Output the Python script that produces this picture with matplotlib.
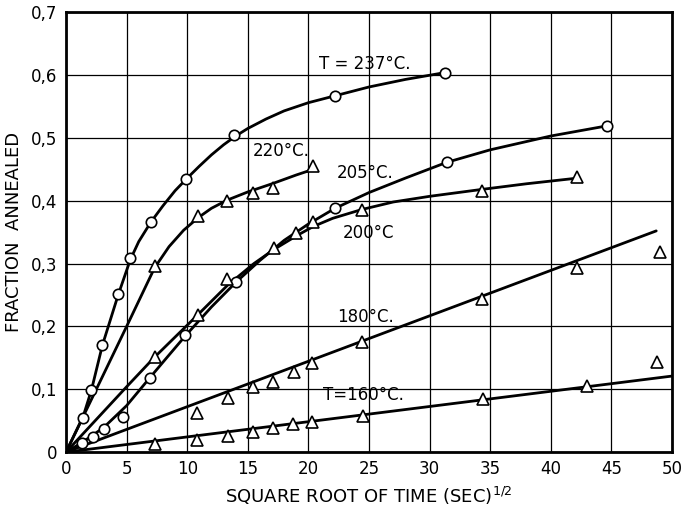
import matplotlib
matplotlib.use('Agg')
import matplotlib.pyplot as plt

# measured points (x = sqrt(time), y = fraction annealed)
x237 = [1.4, 2.1, 3.0, 4.3, 5.3, 7.0, 9.9, 13.9, 22.2, 31.3]
y237 = [0.055, 0.099, 0.171, 0.251, 0.309, 0.366, 0.434, 0.504, 0.566, 0.604]

x220 = [7.3, 10.9, 13.3, 15.4, 17.1, 20.4]
y220 = [0.296, 0.375, 0.399, 0.412, 0.421, 0.455]

x205 = [1.3, 2.2, 3.1, 4.7, 6.9, 9.8, 14.0, 22.2, 31.4, 44.6]
y205 = [0.014, 0.024, 0.037, 0.056, 0.118, 0.186, 0.271, 0.388, 0.461, 0.519]

x200 = [7.3, 10.9, 13.3, 17.2, 19.0, 20.4, 24.4, 34.3, 42.2]
y200 = [0.151, 0.218, 0.275, 0.325, 0.348, 0.366, 0.386, 0.415, 0.437]

x180 = [10.8, 13.4, 15.4, 17.1, 18.8, 20.3, 24.4, 34.3, 42.2, 49.0]
y180 = [0.062, 0.086, 0.103, 0.112, 0.128, 0.142, 0.176, 0.243, 0.293, 0.319]

x160 = [7.3, 10.8, 13.4, 15.4, 17.1, 18.7, 20.3, 24.5, 34.4, 43.0, 48.8]
y160 = [0.013, 0.020, 0.026, 0.032, 0.038, 0.044, 0.048, 0.057, 0.084, 0.106, 0.144]

# hand drawn fitted curves, nodes
c237_x = [0, 1.4, 2.1, 3.0, 4.3, 5.3, 6.0, 7.0, 8.0, 9.0, 10.0, 11.0, 12.0, 13.0,
          14.0, 15.0, 16.5, 18.0, 20.0, 22.2, 25.0, 28.0, 31.3]
c237_y = [0, 0.056, 0.099, 0.170, 0.250, 0.306, 0.335, 0.366, 0.392, 0.416, 0.436,
          0.455, 0.473, 0.489, 0.503, 0.515, 0.530, 0.543, 0.556, 0.567, 0.581,
          0.593, 0.604]
c220_x = [0, 5.0, 7.3, 8.5, 9.7, 10.9, 12.0, 13.3, 15.0, 17.0, 19.0, 20.4]
c220_y = [0, 0.200, 0.293, 0.327, 0.353, 0.373, 0.388, 0.401, 0.414, 0.427, 0.441, 0.450]
c205_x = [0, 1.3, 3.1, 5.0, 6.9, 8.3, 9.8, 12.0, 14.0, 16.0, 18.0, 20.0, 22.2,
          25.0, 28.0, 31.4, 35.0, 40.0, 44.6]
c205_y = [0, 0.015, 0.039, 0.074, 0.118, 0.150, 0.184, 0.231, 0.270, 0.305, 0.337,
          0.363, 0.388, 0.413, 0.436, 0.461, 0.481, 0.503, 0.519]
c200_x = [0, 5.0, 7.3, 10.9, 13.3, 15.5, 17.2, 19.0, 20.4, 22.0, 24.4, 27.0, 30.0,
          34.3, 38.0, 42.2]
c200_y = [0, 0.104, 0.151, 0.219, 0.265, 0.300, 0.323, 0.344, 0.359, 0.372, 0.386,
          0.398, 0.407, 0.418, 0.427, 0.436]
c180_x = [0, 48.7]
c180_y = [0, 0.352]
c160_x = [0, 50]
c160_y = [0, 0.121]

xticks = [0, 5, 10, 15, 20, 25, 30, 35, 40, 45, 50]
yticks = [0, 0.1, 0.2, 0.3, 0.4, 0.5, 0.6, 0.7]
ylabels = ['0', '0,1', '0,2', '0,3', '0,4', '0,5', '0,6', '0,7']

fig = plt.figure(figsize=(6.85, 5.08), dpi=100)
ax = fig.add_axes([0.0964, 0.110, 0.8846, 0.866])

lw = 2.0
for cx, cy in [(c237_x, c237_y), (c220_x, c220_y), (c205_x, c205_y),
               (c200_x, c200_y), (c180_x, c180_y), (c160_x, c160_y)]:
    ax.plot(cx, cy, color='black', lw=lw, solid_capstyle='round',
            solid_joinstyle='round', zorder=3)

mk = dict(ls='none', mfc='white', mec='black', mew=1.2, zorder=4, clip_on=False)
ax.plot(x237, y237, marker='o', ms=7.5, **mk)
ax.plot(x205, y205, marker='o', ms=7.5, **mk)
ax.plot(x220, y220, marker='^', ms=8, **mk)
ax.plot(x200, y200, marker='^', ms=8, **mk)
ax.plot(x180, y180, marker='^', ms=8, **mk)
ax.plot(x160, y160, marker='^', ms=8, **mk)

ax.set_xlim(0, 50)
ax.set_ylim(0, 0.7)
ax.set_xticks(xticks)
ax.set_yticks(yticks)
ax.set_yticklabels(ylabels)
ax.grid(True, color='black', lw=0.9)
ax.set_axisbelow(True)
ax.tick_params(length=0, labelsize=12, pad=6)
for s in ax.spines.values():
    s.set_linewidth(2.0)

ax.set_xlabel('SQUARE ROOT OF TIME (SEC)$^{1/2}$', fontsize=13, labelpad=5)
ax.set_ylabel('FRACTION  ANNEALED', fontsize=13, labelpad=6)

tkw = dict(fontsize=12, ha='left', va='center', zorder=5)
ax.text(20.9, 0.618, 'T = 237°C.', **tkw)
ax.text(15.4, 0.479, '220°C.', **tkw)
ax.text(22.3, 0.444, '205°C.', **tkw)
ax.text(22.8, 0.348, '200°C', **tkw)
ax.text(22.4, 0.215, '180°C.', **tkw)
ax.text(21.2, 0.091, 'T=160°C.', **tkw)

fig.savefig('out.png', dpi=100)
